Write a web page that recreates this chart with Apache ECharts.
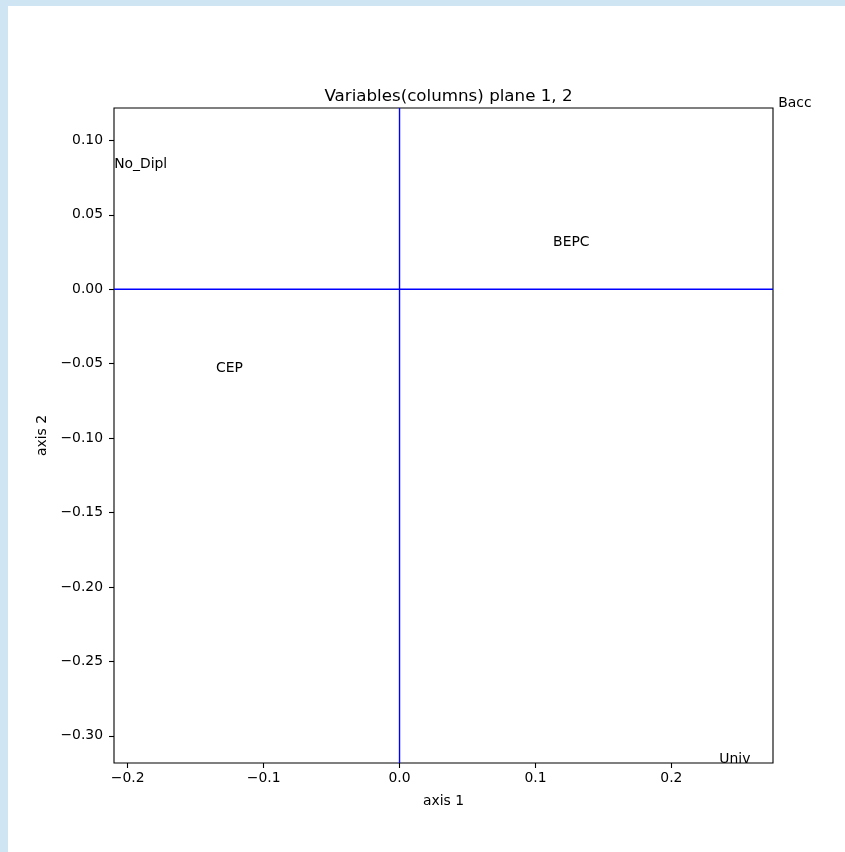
<!DOCTYPE html>
<html>
<head>
<meta charset="utf-8">
<script src="https://cdn.jsdelivr.net/npm/echarts@6/dist/echarts.min.js"></script>
<style>
html,body{margin:0;padding:0;background:#fff;}
#c{width:845px;height:852px;}
</style>
</head>
<body>
<div id="c"></div>
<script>
const labels = ['No_Dipl', 'CEP', 'BEPC', 'Bacc', 'Univ'];
const axis1 = [-0.2100, -0.1350, 0.1130, 0.2787, 0.2353];
const axis2 = [0.0815, -0.0560, 0.0286, 0.1223, -0.3183];
const xTicks = [-0.2, -0.1, 0.0, 0.1, 0.2];
const yTicks = [-0.30, -0.25, -0.20, -0.15, -0.10, -0.05, 0.00, 0.05, 0.10];
const xRange = [-0.2101, 0.2748];
const yRange = [-0.3183, 0.1218];
const titleText = 'Variables(columns) plane 1, 2';

const fmt = (v, d) => (v < -1e-9 ? '\u2212' : '') + Math.abs(v).toFixed(d);
const FONT = 'DejaVu Sans';
const BLUE = '#0000ff';
const chart = echarts.init(document.getElementById('c'), null, {renderer: 'canvas'});
chart.setOption({
  animation: false,
  backgroundColor: '#fff',
  textStyle: {fontFamily: FONT},
  title: {
    text: titleText, left: 443.5, top: 83, textAlign: 'center',
    textStyle: {fontFamily: FONT, fontSize: 16.7, fontWeight: 'normal', color: '#000'}
  },
  graphic: [
    {type: 'rect', left: 0, top: 0, shape: {width: 845, height: 6}, style: {fill: '#cfe5f3'}, silent: true},
    {type: 'rect', left: 0, top: 0, shape: {width: 8, height: 852}, style: {fill: '#cfe5f3'}, silent: true}
  ],
  grid: {left: 114, top: 108, width: 659, height: 655, show: true, borderColor: '#000', borderWidth: 1.1, backgroundColor: 'transparent'},
  xAxis: {
    type: 'value', min: xRange[0], max: xRange[1],
    name: 'axis 1', nameLocation: 'middle', nameGap: 31,
    nameTextStyle: {fontFamily: FONT, fontSize: 13.9, color: '#000'},
    axisLine: {show: false, onZero: false},
    axisTick: {show: true, inside: false, length: 5, lineStyle: {color: '#000', width: 1.1}, customValues: xTicks},
    axisLabel: {show: true, margin: 8, fontFamily: FONT, fontSize: 13.9, color: '#000', customValues: xTicks, formatter: v => fmt(v, 1)},
    splitLine: {show: false}
  },
  yAxis: {
    type: 'value', min: yRange[0], max: yRange[1],
    name: 'axis 2', nameLocation: 'middle', nameGap: 59, nameRotate: 90,
    nameTextStyle: {fontFamily: FONT, fontSize: 13.9, color: '#000'},
    axisLine: {show: false, onZero: false},
    axisTick: {show: true, inside: false, length: 5, lineStyle: {color: '#000', width: 1.1}, customValues: yTicks},
    axisLabel: {show: true, margin: 11, fontFamily: FONT, fontSize: 13.9, color: '#000', customValues: yTicks, formatter: v => fmt(v, 2)},
    splitLine: {show: false}
  },
  series: [
    {
      type: 'line', silent: true, symbol: 'none', z: 1, color: BLUE,
      lineStyle: {color: BLUE, width: 1.4, type: 'solid'},
      data: [[0, yRange[0]], [0, yRange[1]]]
    },
    {
      type: 'line', silent: true, symbol: 'none', z: 1, color: BLUE,
      lineStyle: {color: BLUE, width: 1.4, type: 'solid'},
      data: [[xRange[0], 0], [xRange[1], 0]]
    },
    {
      type: 'scatter',
      clip: false,
      symbolSize: 0,
      z: 3,
      itemStyle: {color: BLUE, opacity: 0},
      data: labels.map((n, i) => ({name: n, value: [axis1[i], axis2[i]]})),
      label: {
        show: true, formatter: '{b}', position: [0, 0], align: 'left', verticalAlign: 'bottom',
        offset: [0, 3], fontFamily: FONT, fontSize: 13.9, color: '#000', opacity: 1
      },
      emphasis: {disabled: true}
    }
  ]
});
</script>
</body>
</html>
